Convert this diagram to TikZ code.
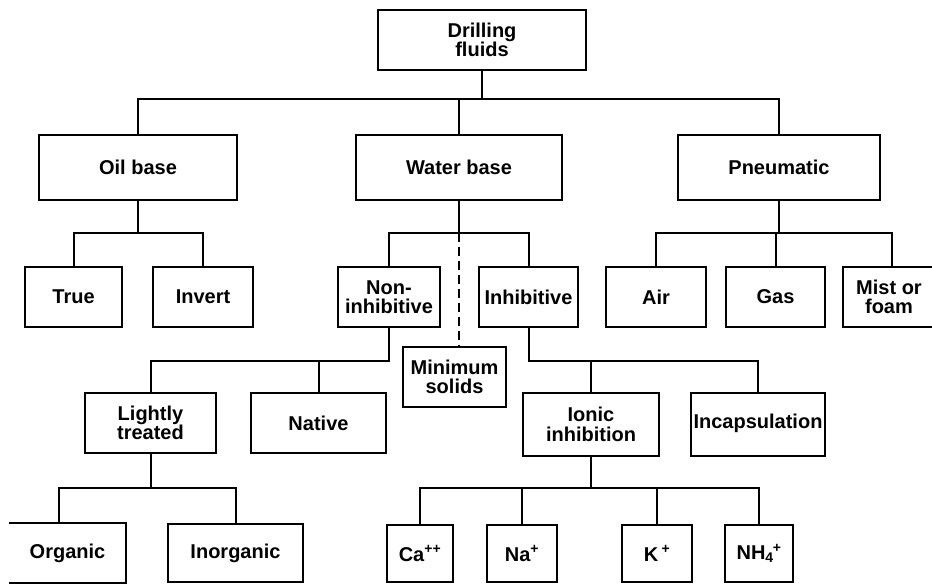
\documentclass[tikz,border=0pt]{standalone}
\usepackage{fontspec}
\setmainfont{Liberation Sans}
\begin{document}
\begin{tikzpicture}[x=1pt,y=-1pt,
  box/.style={draw, line width=2pt, inner sep=0pt, align=center,
    font=\fontsize{20}{19.5}\selectfont\bfseries},
  conn/.style={line width=2pt},
  dconn/.style={line width=2pt, dash pattern=on 9pt off 5pt}]
\useasboundingbox (0,0) rectangle (932,584);
\clip (0,0) rectangle (932,584);
% level 0
\node[box, minimum width=208pt, minimum height=60pt] (top) at (482,40) {Drilling\\fluids};
% level 1
\node[box, minimum width=198pt, minimum height=65pt] (oil) at (138,167.5) {Oil base};
\node[box, minimum width=206pt, minimum height=65pt] (water) at (459,167.5) {Water base};
\node[box, minimum width=202pt, minimum height=65pt] (pneu) at (779,167.5) {Pneumatic};
% level 2
\node[box, minimum width=97pt, minimum height=60pt] (true) at (73.5,297) {True};
\node[box, minimum width=100pt, minimum height=60pt] (invert) at (203,297) {Invert};
\node[box, minimum width=102pt, minimum height=60pt] (noninh) at (389,297) {Non-\\inhibitive};
\node[box, minimum width=99pt, minimum height=60pt] (inh) at (528.5,297) {Inhibitive};
\node[box, minimum width=100pt, minimum height=60pt] (air) at (656,297) {Air};
\node[box, minimum width=99pt, minimum height=60pt] (gas) at (775.5,297) {Gas};
\node[box, minimum width=97pt, minimum height=60pt] (mist) at (891.5,297) {\hspace*{-5pt}Mist or\\\hspace*{-5pt}foam};
\node[box, minimum width=103pt, minimum height=60pt] (minsol) at (454.5,377) {Minimum\\solids};
% level 3
\node[box, minimum width=131pt, minimum height=60pt] (light) at (150.5,423) {Lightly\\treated};
\node[box, minimum width=135pt, minimum height=60pt] (native) at (318.5,423) {Native};
\node[box, minimum width=136pt, minimum height=63pt] (ionic) at (591,424.5) {Ionic\\inhibition};
\node[box, minimum width=134pt, minimum height=63pt] (incap) at (758,424.5) {\raisebox{7pt}{Incapsulation}};
% level 4
\node[box, draw=none, minimum width=115pt, minimum height=58pt] (org) at (67.5,553) {Organic};
\draw[conn] (org.north west) -- (org.north east) -- (org.south east) -- (org.south west);
\node[box, minimum width=135pt, minimum height=58pt] (inorg) at (235.5,553) {Inorganic};
\node[box, minimum width=66pt, minimum height=57pt] (ca) at (420,553.5) {Ca\textsuperscript{++}};
\node[box, minimum width=70pt, minimum height=57pt] (na) at (522,553.5) {Na\textsuperscript{+}};
\node[box, minimum width=70pt, minimum height=57pt] (k) at (657,553.5) {K\,\textsuperscript{+}};
\node[box, minimum width=68pt, minimum height=57pt] (nh) at (759,553.5) {NH\textsubscript{4}\kern-1pt\textsuperscript{+}};
% bus levels
\coordinate (b1) at (0,99);
\coordinate (b2) at (0,233);
\coordinate (b3) at (0,361);
\coordinate (b4) at (0,488);
\coordinate (od) at (59,524);
% connectors
\draw[conn] (top.south) -- (top.south |- b1);
\draw[conn] (oil.north) |- (pneu.north |- b1) -- (pneu.north);
\draw[conn] (water.north) -- (water.north |- b1);
\draw[conn] (oil.south) -- (oil.south |- b2);
\draw[conn] (true.north) |- (invert.north |- b2) -- (invert.north);
\draw[conn] (water.south) -- (water.south |- b2);
\draw[conn] (noninh.north) |- (inh.north |- b2) -- (inh.north);
\draw[dconn] (water.south |- b2) -- (water.south |- minsol.north);
\draw[conn] (pneu.south) -- (pneu.south |- b2);
\draw[conn] (air.north) |- (mist.north |- b2) -- (mist.north);
\draw[conn] (gas.north) -- (gas.north |- b2);
\draw[conn] (noninh.south) |- (light.north |- b3) -- (light.north);
\draw[conn] (native.north) -- (native.north |- b3);
\draw[conn] (inh.south) |- (incap.north |- b3) -- (incap.north);
\draw[conn] (ionic.north) -- (ionic.north |- b3);
\draw[conn] (light.south) -- (light.south |- b4);
\draw[conn] (od) |- (inorg.north |- b4) -- (inorg.north);
\draw[conn] (ionic.south) -- (ionic.south |- b4);
\draw[conn] (ca.north) |- (nh.north |- b4) -- (nh.north);
\draw[conn] (na.north) -- (na.north |- b4);
\draw[conn] (k.north) -- (k.north |- b4);
\end{tikzpicture}
\end{document}
